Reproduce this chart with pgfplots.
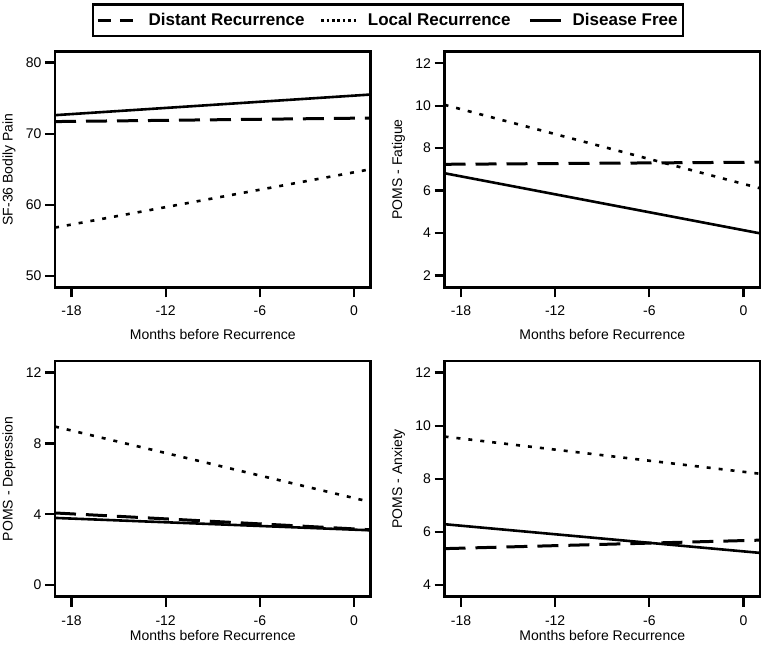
\documentclass[border=0pt]{standalone}
\usepackage{fontspec}
\setmainfont{Liberation Sans}
\usepackage{pgfplots}
\pgfplotsset{compat=1.18}
\pgfplotsset{
  panel/.style={
    scale only axis,
    width=315.5pt, height=235.8pt,
    xmin=-19.05, xmax=1.05,
    xtick={-18,-12,-6,0},
    xticklabels={-18,-12,-6,0},
    tick align=outside,
    xtick pos=bottom, ytick pos=left,
    major tick length=10pt,
    tick style={line width=2.3pt, black},
    axis line style={line width=2.6pt},
    xticklabel style={font=\fontsize{14}{16}\selectfont, yshift=-5pt},
    yticklabel style={font=\fontsize{14}{16}\selectfont},
    xlabel={Months before Recurrence},
    every axis x label/.style={at={(axis description cs:0.5,0)}, anchor=center, yshift=-47pt, font=\fontsize{14}{16}\selectfont},
    every axis y label/.style={at={(axis description cs:-0.146,0.5)}, anchor=center, rotate=90, font=\fontsize{14}{16}\selectfont},
    clip=true,
  },
  dist/.style={black, line width=3pt, dash pattern=on 21pt off 10pt},
  loc/.style={black, line width=2.6pt, dash pattern=on 4pt off 8pt},
  free/.style={black, line width=2.6pt},
}
\begin{document}
\begin{tikzpicture}
\path[use as bounding box] (0,0) rectangle (761pt,645pt);
% Top-left
\begin{axis}[panel, at={(55pt,357.7pt)}, anchor=south west,
  ymin=48.41, ymax=81.55, ytick={50,60,70,80}, yticklabels={50,60,70,80},
  ylabel={SF-36 Bodily Pain},
  legend columns=3,
  legend style={at={(axis description cs:1.0555,1.1324)}, anchor=center,
    draw=black, line width=2.6pt, inner xsep=3.5pt, inner ysep=7pt,
    font=\bfseries\fontsize{17}{19}\selectfont,
    /tikz/column 2/.style={column sep=13pt},
    /tikz/column 4/.style={column sep=16pt}},
]
\addlegendimage{legend image code/.code={\draw[black, line width=3pt, dash pattern=on 13pt off 9pt] (0pt,0pt) -- (35pt,0pt); \path (47.5pt,0pt);}}
\addlegendentry{Distant Recurrence}
\addlegendimage{legend image code/.code={\draw[black, line width=3pt, dash pattern=on 2.6pt off 2.8pt] (0pt,0pt) -- (37pt,0pt); \path (43.5pt,0pt);}}
\addlegendentry{Local Recurrence}
\addlegendimage{legend image code/.code={\draw[black, line width=2.6pt] (0pt,0pt) -- (31pt,0pt); \path (39.5pt,0pt);}}
\addlegendentry{Disease Free\hspace{3pt}}
\addplot[dist, forget plot] coordinates {(-19.05,71.7) (1.05,72.2)};
\addplot[loc, forget plot] coordinates {(-19.05,56.8) (1.05,65.0)};
\addplot[free, forget plot] coordinates {(-19.05,72.6) (1.05,75.5)};
\end{axis}
% Top-right
\begin{axis}[panel, at={(444.5pt,357.7pt)}, anchor=south west,
  ymin=1.45, ymax=12.55, ytick={2,4,6,8,10,12}, yticklabels={2,4,6,8,10,12},
  ylabel={POMS - Fatigue}]
\addplot[dist] coordinates {(-19.05,7.24) (1.05,7.34)};
\addplot[loc] coordinates {(-19.05,10.04) (1.05,6.11)};
\addplot[free] coordinates {(-19.05,6.82) (1.05,3.99)};
\end{axis}
% Bottom-left
\begin{axis}[panel, at={(55pt,48.3pt)}, anchor=south west,
  ymin=-0.66, ymax=12.66, ytick={0,4,8,12}, yticklabels={0,4,8,12},
  ylabel={POMS - Depression},
  every axis x label/.append style={yshift=8.5pt}]
\addplot[dist] coordinates {(-19.05,4.07) (1.05,3.12)};
\addplot[loc] coordinates {(-19.05,8.95) (1.05,4.69)};
\addplot[free] coordinates {(-19.05,3.79) (1.05,3.09)};
\end{axis}
% Bottom-right
\begin{axis}[panel, at={(444.5pt,48.3pt)}, anchor=south west,
  ymin=3.56, ymax=12.44, ytick={4,6,8,10,12}, yticklabels={4,6,8,10,12},
  ylabel={POMS - Anxiety},
  every axis x label/.append style={yshift=8.5pt}]
\addplot[dist] coordinates {(-19.05,5.37) (1.05,5.69)};
\addplot[loc] coordinates {(-19.05,9.59) (1.05,8.19)};
\addplot[free] coordinates {(-19.05,6.29) (1.05,5.21)};
\end{axis}
\end{tikzpicture}
\end{document}
